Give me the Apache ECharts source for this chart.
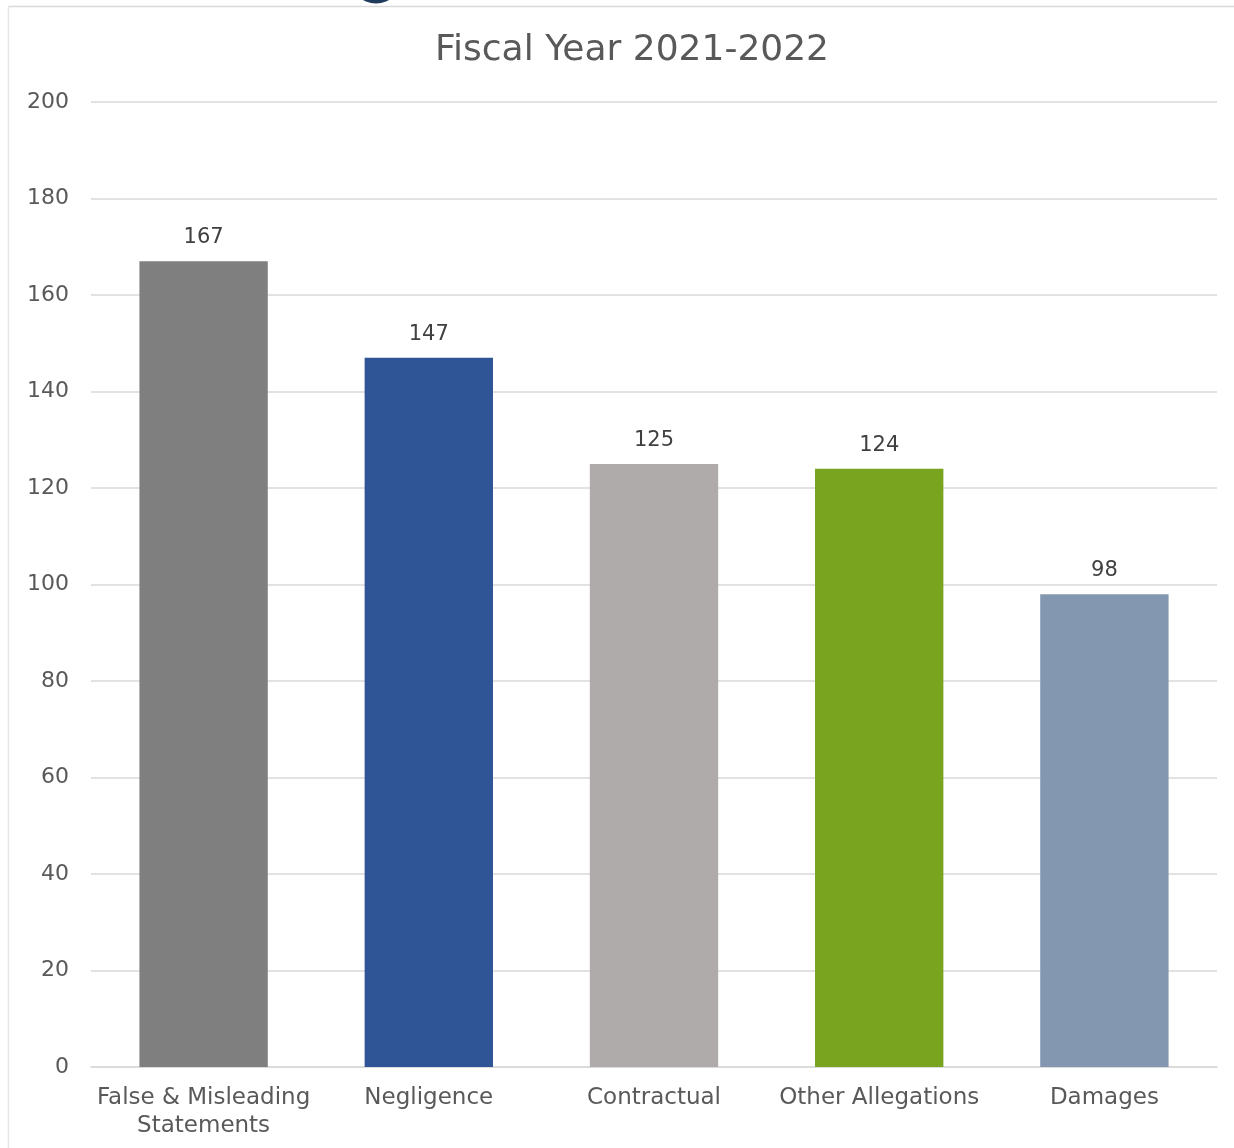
<!DOCTYPE html>
<html>
<head>
<meta charset="utf-8">
<script src="https://cdn.jsdelivr.net/npm/echarts@6/dist/echarts.min.js"></script>
<style>
html,body{margin:0;padding:0;background:#fff;}
#chart{width:1234px;height:1148px;}
</style>
</head>
<body>
<div id="chart"></div>
<script>
const titleText = 'Fiscal Year 2021-2022';
const categories = ['False & Misleading\nStatements', 'Negligence', 'Contractual', 'Other Allegations', 'Damages'];
const values = [167, 147, 125, 124, 98];
const barColors = ['#7f7f7f', '#2f5597', '#afabab', '#78a41f', '#8497b0'];
const yTicks = { min: 0, max: 200, interval: 20 };

const chart = echarts.init(document.getElementById('chart'));
chart.setOption({
  backgroundColor: '#ffffff',
  animation: false,
  title: {
    text: titleText,
    left: 627,
    textAlign: 'center',
    top: 28,
    textStyle: { fontFamily: 'DejaVu Sans', fontSize: 36, fontWeight: 'normal', color: '#595959' }
  },
  graphic: [
    { type: 'line', shape: { x1: 8, y1: 6.5, x2: 1234, y2: 6.5 }, style: { stroke: '#d9d9d9', lineWidth: 1.5 }, z: 0 },
    { type: 'line', shape: { x1: 8.5, y1: 6, x2: 8.5, y2: 1148 }, style: { stroke: '#e6e6e6', lineWidth: 1.5 }, z: 0 },
    { type: 'circle', shape: { cx: 376, cy: -22.5, r: 26 }, style: { fill: '#1f3b5e' }, z: 1 }
  ],
  grid: { left: 91, right: 17, top: 102, bottom: 81, containLabel: false },
  xAxis: {
    type: 'category',
    data: categories,
    axisLine: { show: true, lineStyle: { color: '#d9d9d9', width: 1.5 } },
    axisTick: { show: false },
    axisLabel: {
      interval: 0,
      margin: 17,
      fontFamily: 'DejaVu Sans',
      fontSize: 23,
      color: '#595959',
      lineHeight: 28
    }
  },
  yAxis: {
    type: 'value',
    min: yTicks.min,
    max: yTicks.max,
    interval: yTicks.interval,
    axisLine: { show: false },
    axisTick: { show: false },
    splitLine: { lineStyle: { color: '#d9d9d9', width: 1.5 } },
    axisLabel: {
      margin: 22,
      fontFamily: 'DejaVu Sans',
      fontSize: 22,
      color: '#595959'
    }
  },
  series: [{
    type: 'bar',
    data: values.map((v, i) => ({ value: v, itemStyle: { color: barColors[i] } })),
    barCategoryGap: '43%',
    label: {
      show: true,
      position: 'top',
      distance: 13,
      fontFamily: 'DejaVu Sans',
      fontSize: 21,
      color: '#404040'
    }
  }]
});
</script>
</body>
</html>
